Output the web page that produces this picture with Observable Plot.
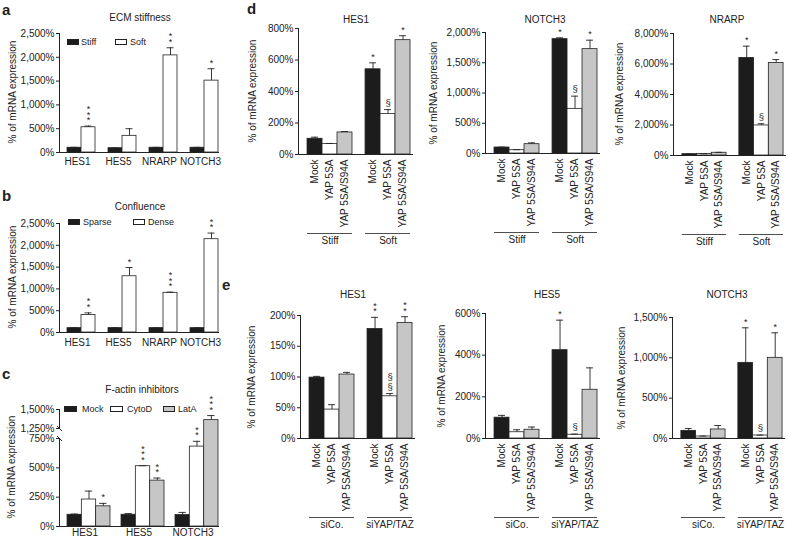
<!DOCTYPE html>
<html><head><meta charset="utf-8">
<script src="https://cdn.jsdelivr.net/npm/d3@7"></script>
<script src="https://cdn.jsdelivr.net/npm/@observablehq/plot@0.6"></script>
<style>
body{margin:0;background:#fff;}
#fig{position:relative;width:788px;height:540px;overflow:hidden;font-family:"Liberation Sans",Arial,Helvetica,sans-serif;color:#222;}
#fig > div{position:absolute;white-space:nowrap;}
.letter{font-weight:bold;font-size:15px;line-height:15px;}
.title{font-size:10px;line-height:12px;transform:translateX(-50%);}
.ylab{font-size:10px;line-height:12px;transform:translate(-50%,-50%) rotate(-90deg);}
.legtxt{font-size:9px;line-height:10px;}
.sw{border:0.8px solid #222;box-sizing:border-box;}
#fig svg{position:absolute;overflow:visible;}
</style></head><body><div id="fig"></div><script>
// ================= DATA =================
// Panel a – ECM stiffness
const genesA = ["HES1", "HES5", "NRARP", "NOTCH3"];
const condsA = ["Stiff", "Soft"];
const stiffA = [100, 90, 100, 100];
const stiffErrA = [8, 4, 8, 8];
const softA = [530, 350, 2040, 1510];
const softErrA = [25, 150, 160, 250];
const softStarsA = [3, 0, 2, 1];
const ticksA = [0, 500, 1000, 1500, 2000, 2500];

// Panel b – Confluence
const genesB = ["HES1", "HES5", "NRARP", "NOTCH3"];
const condsB = ["Sparse", "Dense"];
const sparseB = [100, 100, 100, 100];
const sparseErrB = [6, 8, 5, 6];
const denseB = [400, 1290, 910, 2140];
const denseErrB = [50, 200, 15, 140];
const denseStarsB = [2, 1, 3, 2];
const ticksB = [0, 500, 1000, 1500, 2000, 2500];

// Panel c – F-actin inhibitors (broken axis)
const genesC = ["HES1", "HES5", "NOTCH3"];
const condsC = ["Mock", "CytoD", "LatA"];
const mockC = [100, 100, 98];
const mockErrC = [6, 10, 22];
const cytoC = [230, 514, 681];
const cytoErrC = [72, 4, 45];
const cytoStarsC = [0, 3, 2];
const latC = [172, 391, 1360];
const latErrC = [25, 22, 60];
const latStarsC = [1, 2, 3];
const ticksC = [0, 250, 500, 750, 1250, 1500];
const breakC = [750, 1250];

// Panels d / e
const condsDE = ["Mock", "YAP 5SA", "YAP 5SA/S94A"];
const groupsD = ["Stiff", "Soft"];
const groupsE = ["siCo.", "siYAP/TAZ"];

const dHES1 = {stiff: [100, 66, 140], stiffErr: [10, 4, 6], soft: [541, 257, 726], softErr: [41, 28, 28], marks: ["*", "§", "*"], ticks: [0, 200, 400, 600, 800]};
const dNOTCH3 = {stiff: [99, 55, 154], stiffErr: [6, 8, 22], soft: [1890, 738, 1725], softErr: [22, 210, 148], marks: ["*", "§", "*"], ticks: [0, 500, 1000, 1500, 2000]};
const dNRARP = {stiff: [88, 100, 180], stiffErr: [10, 10, 25], soft: [6400, 1970, 6070], softErr: [770, 110, 220], marks: ["*", "§", "*"], ticks: [0, 2000, 4000, 6000, 8000]};

const eHES1 = {siCo: [99, 47, 104], siCoErr: [2, 8, 3.5], siYAP: [178, 68.6, 188], siYAPErr: [19, 4.4, 10], marks: ["**", "§§", "**"], ticks: [0, 50, 100, 150, 200]};
const eHES5 = {siCo: [100, 30, 42], siCoErr: [11, 12, 13], siYAP: [424, 18, 234], siYAPErr: [144, 3, 105], marks: ["*", "§", ""], ticks: [0, 200, 400, 600]};
const eNOTCH3 = {siCo: [95, 25, 112], siCoErr: [29, 5, 49], siYAP: [938, 37, 1000], siYAPErr: [434, 5, 310], marks: ["*", "§", "*"], ticks: [0, 500, 1000, 1500]};

// ================= HELPERS =================
const INK = "#222";
const BLACK = "#1c1c1c", WHITE = "#ffffff", GRAY = "#c6c6c6";
const FONT = '"Liberation Sans", Arial, Helvetica, sans-serif';
const fig = document.getElementById("fig");
const pct = d => d3.format(",")(d) + "%";

function html(cls, text, left, top, extra) {
  const el = document.createElement("div");
  el.className = cls;
  el.textContent = text;
  el.style.left = left + "px";
  el.style.top = top + "px";
  if (extra) Object.assign(el.style, extra);
  fig.appendChild(el);
  return el;
}
function place(svg, left, top) {
  svg.style.left = left + "px";
  svg.style.top = top + "px";
  fig.appendChild(svg);
}
function legend(items, y) {
  items.forEach(it => {
    html("sw", "", it.sx, y - 3, {width: it.sw + "px", height: "6px", background: it.color});
    html("legtxt", it.label, it.tx, y - 5);
  });
}
const stack = m => m.split("").join("\n");

function rowsGenes(genes, series) {
  const rows = [];
  genes.forEach((g, i) => series.forEach(s => rows.push({
    group: g, cond: s.name, value: s.values[i], err: s.errs[i],
    mark: s.stars ? "*".repeat(s.stars[i]) : ""
  })));
  return rows;
}
function rowsDE(groups, vals, errs, marks) {
  const rows = [];
  groups.forEach((g, gi) => condsDE.forEach((c, ci) => rows.push({
    group: g, cond: c, value: vals[gi][ci], err: errs[gi][ci], mark: gi === 1 ? marks[ci] : ""
  })));
  return rows;
}
function barMarks(rows, cap) {
  const top = d => d.value + d.err;
  return [
    Plot.barY(rows, {fx: "group", x: "cond", y: "value", fill: "cond", stroke: INK, strokeWidth: 0.8}),
    Plot.ruleX(rows, {fx: "group", x: "cond", y1: "value", y2: top, stroke: INK, strokeWidth: 0.9}),
    Plot.tickY(rows, {fx: "group", x: "cond", y: top, stroke: INK, strokeWidth: 0.9, insetLeft: cap, insetRight: cap}),
    // significance stars (stacked)
    Plot.text(rows.filter(d => d.mark && d.mark[0] === "*"), {fx: "group", x: "cond", y: top, text: d => stack(d.mark), lineAnchor: "bottom", lineHeight: 0.6, fontSize: 9, dy: -3, fill: INK}),
    // section signs (stacked)
    Plot.text(rows.filter(d => d.mark && d.mark[0] === "§"), {fx: "group", x: "cond", y: top, text: d => stack(d.mark), lineAnchor: "bottom", lineHeight: 1.05, fontSize: 9.5, dy: -4, fill: INK}),
    // x baseline across all facets (bottom edge of the frame is y = 0)
    Plot.frame({anchor: "bottom", facet: "super", stroke: INK, strokeWidth: 1})
  ];
}
const baseStyle = {fontFamily: FONT, fontSize: "10px", color: INK, background: "transparent", overflow: "visible"};

function genePlot(o) {
  return Plot.plot({
    width: o.w, height: o.h, marginLeft: o.mL, marginRight: o.mR, marginTop: o.mT, marginBottom: o.mB,
    style: baseStyle,
    fx: {domain: o.groups, paddingInner: o.fxPad, paddingOuter: 0, round: false, axis: "bottom", tickSize: 0, tickPadding: o.labPad, label: null},
    x: {domain: o.conds, paddingInner: 0, paddingOuter: o.xPad, align: 1, round: false, axis: null},
    y: o.y,
    color: {domain: o.conds, range: o.colors},
    marks: barMarks(o.rows, o.cap)
  });
}
function dePlot(o) {
  const groups = o.groups;
  return Plot.plot({
    width: o.w, height: o.h, marginLeft: o.mL, marginRight: o.mR, marginTop: o.mT, marginBottom: o.mB,
    style: baseStyle,
    fx: {domain: groups, paddingInner: 0.035, paddingOuter: 0, round: false, axis: null},
    x: {domain: condsDE, paddingInner: 0, paddingOuter: 0.367, align: 0.82, round: false, tickRotate: -90, tickSize: 0, tickPadding: 5, label: null},
    y: {domain: [0, d3.max(o.ticks)], ticks: o.ticks, tickFormat: pct, tickSize: 3, tickPadding: 2, line: true, label: null},
    color: {domain: condsDE, range: [BLACK, WHITE, GRAY]},
    marks: [
      ...barMarks(o.rows, 4),
      Plot.ruleY(groups, {fx: d => d, x1: () => condsDE[0], x2: () => condsDE[2], y: () => 0, dy: 79, stroke: INK, strokeWidth: 0.8}),
      Plot.text(groups, {fx: d => d, x: () => condsDE[1], text: d => d, frameAnchor: "bottom", dy: 89, fontSize: 10, fill: INK})
    ]
  });
}

// ================= PANEL a =================
html("letter", "a", 2, 2);
html("title", "ECM stiffness", 140, 12);
legend([
  {label: "Stiff", color: BLACK, sx: 67, sw: 12, tx: 81},
  {label: "Soft", color: WHITE, sx: 115, sw: 12, tx: 130}
], 42);
place(genePlot({
  w: 220, h: 170, mL: 59, mR: 2, mT: 33, mB: 18, fxPad: 0.122, xPad: 0.286, labPad: 5, cap: 3.5,
  groups: genesA, conds: condsA, colors: [BLACK, WHITE],
  rows: rowsGenes(genesA, [
    {name: "Stiff", values: stiffA, errs: stiffErrA},
    {name: "Soft", values: softA, errs: softErrA, stars: softStarsA}
  ]),
  y: {domain: [0, 2500], ticks: ticksA, tickFormat: pct, tickSize: 3, tickPadding: 2, line: true, label: null}
}), 0, 0);
html("ylab", "% of mRNA expression", 13, 92);

// ================= PANEL b =================
html("letter", "b", 2, 188);
html("title", "Confluence", 140, 201);
legend([
  {label: "Sparse", color: BLACK, sx: 68, sw: 12, tx: 83},
  {label: "Dense", color: WHITE, sx: 133, sw: 12, tx: 148}
], 222);
place(genePlot({
  w: 220, h: 160, mL: 59, mR: 2, mT: 33, mB: 18, fxPad: 0.122, xPad: 0.286, labPad: 6, cap: 3.5,
  groups: genesB, conds: condsB, colors: [BLACK, WHITE],
  rows: rowsGenes(genesB, [
    {name: "Sparse", values: sparseB, errs: sparseErrB},
    {name: "Dense", values: denseB, errs: denseErrB, stars: denseStarsB}
  ]),
  y: {domain: [0, 2500], ticks: ticksB, tickFormat: pct, tickSize: 3, tickPadding: 2, line: true, label: null}
}), 0, 190);
html("ylab", "% of mRNA expression", 13, 277);

// ================= PANEL c =================
html("letter", "c", 2, 366);
html("title", "F-actin inhibitors", 142, 384);
legend([
  {label: "Mock", color: BLACK, sx: 64, sw: 13, tx: 82},
  {label: "CytoD", color: WHITE, sx: 110, sw: 13, tx: 127},
  {label: "LatA", color: GRAY, sx: 163, sw: 12, tx: 178}
], 409);
const cDomain = [0, 750, 1250, 1500];
const cRange = [151, 63, 53, 34];
const cY = d3.scaleLinear().domain(cDomain).range(cRange);
place(genePlot({
  w: 220, h: 165, mL: 59, mR: 2, mT: 34, mB: 14, fxPad: 0.0556, xPad: 0.28, labPad: 2, cap: 3.5,
  groups: genesC, conds: condsC, colors: [BLACK, WHITE, GRAY],
  rows: rowsGenes(genesC, [
    {name: "Mock", values: mockC, errs: mockErrC},
    {name: "CytoD", values: cytoC, errs: cytoErrC, stars: cytoStarsC},
    {name: "LatA", values: latC, errs: latErrC, stars: latStarsC}
  ]),
  y: {type: "linear", domain: cDomain, range: cRange, axis: null}
}), 0, 375);
// broken y axis for c
const segC = [{lo: 0, hi: breakC[0]}, {lo: breakC[1], hi: d3.max(ticksC)}];
place(Plot.plot({
  width: 70, height: 165, marginLeft: 59, marginRight: 1, marginTop: 34, marginBottom: 14,
  style: baseStyle,
  x: {domain: [0, 10], axis: null},
  y: {type: "linear", domain: cDomain, range: cRange, ticks: ticksC, tickFormat: pct, tickSize: 3, tickPadding: 2, label: null},
  marks: [
    Plot.ruleX(segC, {x: () => 0, y1: "lo", y2: "hi", stroke: INK, strokeWidth: 1}),
    Plot.link(breakC, {x1: () => -2.5, x2: () => 2.5, y1: d => cY.invert(cY(d) - 2.5), y2: d => cY.invert(cY(d) + 2.5), stroke: INK, strokeWidth: 1})
  ]
}), 0, 375);
html("ylab", "% of mRNA expression", 12, 467);

// ================= PANEL d =================
html("letter", "d", 247, 1);
function addDE(title, data, groups, key1, key2, o) {
  const rows = rowsDE(groups, [data[key1], data[key2]], [data[key1 + "Err"], data[key2 + "Err"]], data.marks);
  place(dePlot({...o, groups, rows, ticks: data.ticks}), o.left, o.top);
  html("title", title, o.tx, o.ty);
  html("ylab", "% of mRNA expression", o.lx, o.top + o.mT + (o.h - o.mT - o.mB) / 2);
}
addDE("HES1", dHES1, groupsD, "stiff", "soft", {left: 238, top: 0, w: 176, h: 270, mL: 60, mR: 2, mT: 28, mB: 116, tx: 356, ty: 14, lx: 253});
addDE("NOTCH3", dNOTCH3, groupsD, "stiff", "soft", {left: 425, top: 0, w: 176, h: 270, mL: 60, mR: 2, mT: 32, mB: 117, tx: 545, ty: 14, lx: 434});
addDE("NRARP", dNRARP, groupsD, "stiff", "soft", {left: 613, top: 0, w: 173, h: 270, mL: 60, mR: 1, mT: 33, mB: 115, tx: 727, ty: 14, lx: 620});

// ================= PANEL e =================
html("letter", "e", 222, 277);
addDE("HES1", eHES1, groupsE, "siCo", "siYAP", {left: 240, top: 280, w: 176, h: 260, mL: 60, mR: 2, mT: 35, mB: 102, tx: 353, ty: 289, lx: 252});
addDE("HES5", eHES5, groupsE, "siCo", "siYAP", {left: 425, top: 280, w: 176, h: 260, mL: 60, mR: 2, mT: 33, mB: 102, tx: 547, ty: 289, lx: 442});
addDE("NOTCH3", eNOTCH3, groupsE, "siCo", "siYAP", {left: 612, top: 280, w: 173, h: 260, mL: 60, mR: 1, mT: 37, mB: 102, tx: 727, ty: 289, lx: 622});
</script></body></html>
